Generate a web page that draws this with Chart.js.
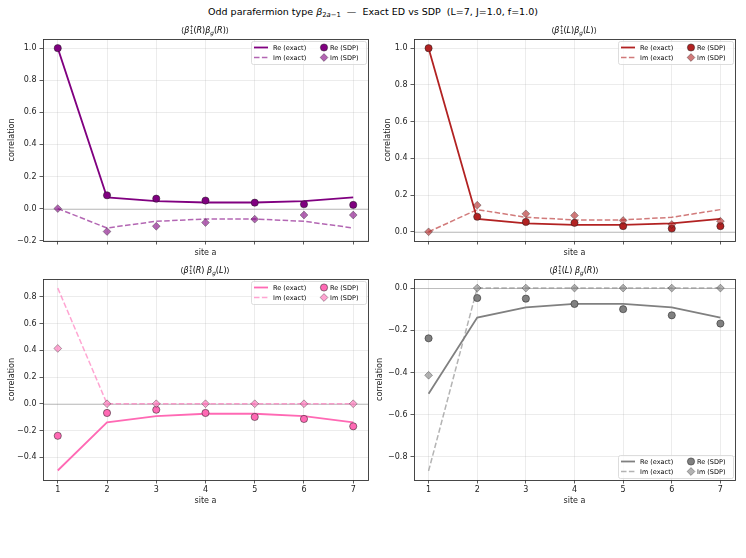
<!DOCTYPE html>
<html lang="en">
  <head>
    <meta charset="UTF-8" />
    <title>Odd parafermion type</title>
    <style>
      body {
        margin: 0;
        width: 746px;
        height: 558px;
        position: relative;
        overflow: hidden;
        background: #fff;
        font-family: "DejaVu Sans", sans-serif;
      }
      .panel {
        position: absolute;
      }
      .suptitle {
        position: absolute;
        top: 6px;
        left: 0;
        width: 746px;
        text-align: center;
        font-size: 9.5px;
        color: #000;
      }
      .axtitle {
        position: absolute;
        width: 200px;
        text-align: center;
        font-size: 8px;
        color: #000;
        white-space: nowrap;
      }
      .ss {
        display: inline-flex;
        flex-direction: column;
        vertical-align: middle;
        font-size: 0.7em;
        line-height: 0.95;
        margin-left: 0.5px;
      }
      sub {
        font-size: 0.72em;
        vertical-align: -0.35em;
      }
    </style>
  </head>
  <body>
    <div class="suptitle">
      Odd parafermion type <i>β</i><sub>2<i>a</i>−1</sub> &nbsp;—&nbsp; Exact ED vs SDP &nbsp;(L=7, J=1.0, f=1.0)
    </div>

    <canvas class="panel" id="c_rr" width="373" height="230" style="left: 0; top: 30px"></canvas>
    <canvas class="panel" id="c_ll" width="373" height="230" style="left: 373px; top: 30px"></canvas>
    <canvas class="panel" id="c_rl" width="373" height="240" style="left: 0; top: 270px"></canvas>
    <canvas class="panel" id="c_lr" width="373" height="240" style="left: 373px; top: 270px"></canvas>

    <div class="axtitle" style="left: 105px; top: 25px">⟨<i>β</i><span class="ss"><span>†</span><span>1</span></span>(<i>R</i>)<i>β</i><sub><i>g</i></sub>(<i>R</i>)⟩</div>
    <div class="axtitle" style="left: 474px; top: 25px">⟨<i>β</i><span class="ss"><span>†</span><span>1</span></span>(<i>L</i>)<i>β</i><sub><i>g</i></sub>(<i>L</i>)⟩</div>
    <div class="axtitle" style="left: 105px; top: 265px">⟨<i>β</i><span class="ss"><span>†</span><span>1</span></span>(<i>R</i>) <i>β</i><sub><i>g</i></sub>(<i>L</i>)⟩</div>
    <div class="axtitle" style="left: 474px; top: 265px">⟨<i>β</i><span class="ss"><span>†</span><span>1</span></span>(<i>L</i>) <i>β</i><sub><i>g</i></sub>(<i>R</i>)⟩</div>
  </body>
  <script src="https://cdn.jsdelivr.net/npm/chart.js"></script>

  <script>
    const sites = [1, 2, 3, 4, 5, 6, 7];

    // <b1+(R) bg(R)>
    const rrReExact = [1.0, 0.07, 0.046, 0.038, 0.038, 0.046, 0.07];
    const rrImExact = [0.0, -0.121, -0.079, -0.065, -0.065, -0.079, -0.121];
    const rrReSdp = [1.0, 0.083, 0.062, 0.05, 0.037, 0.027, 0.023];
    const rrImSdp = [0.0, -0.143, -0.11, -0.087, -0.066, -0.04, -0.04];
    const rrTicks = [-0.2, 0.0, 0.2, 0.4, 0.6, 0.8, 1.0];

    // <b1+(L) bg(L)>
    const llReExact = [1.0, 0.07, 0.046, 0.038, 0.038, 0.046, 0.07];
    const llImExact = [0.0, 0.121, 0.079, 0.065, 0.065, 0.079, 0.121];
    const llReSdp = [1.0, 0.082, 0.054, 0.049, 0.031, 0.018, 0.031];
    const llImSdp = [0.0, 0.145, 0.098, 0.089, 0.062, 0.04, 0.058];
    const llTicks = [0.0, 0.2, 0.4, 0.6, 0.8, 1.0];

    // <b1+(R) bg(L)>
    const rlReExact = [-0.5, -0.139, -0.092, -0.075, -0.075, -0.092, -0.139];
    const rlImExact = [0.866, 0.0, 0.0, 0.0, 0.0, 0.0, 0.0];
    const rlReSdp = [-0.24, -0.069, -0.045, -0.069, -0.099, -0.114, -0.169];
    const rlImSdp = [0.414, 0.0, 0.0, 0.0, 0.0, 0.0, 0.0];
    const rlTicks = [-0.4, -0.2, 0.0, 0.2, 0.4, 0.6, 0.8];

    // <b1+(L) bg(R)>
    const lrReExact = [-0.5, -0.14, -0.091, -0.075, -0.075, -0.091, -0.14];
    const lrImExact = [-0.866, 0.0, 0.0, 0.0, 0.0, 0.0, 0.0];
    const lrReSdp = [-0.238, -0.047, -0.05, -0.075, -0.1, -0.129, -0.168];
    const lrImSdp = [-0.413, 0.0, 0.0, 0.0, 0.0, 0.0, 0.0];
    const lrTicks = [-0.8, -0.6, -0.4, -0.2, 0.0];

    const legendLabels = ["Re (exact)", "Im (exact)", "Re (SDP)", "Im (SDP)"];

    Chart.defaults.font.family = "'DejaVu Sans', sans-serif";
    Chart.defaults.font.size = 8;
    Chart.defaults.color = "#222";

    function rgba(hex, a) {
      const n = parseInt(hex.slice(1), 16);
      return `rgba(${(n >> 16) & 255}, ${(n >> 8) & 255}, ${n & 255}, ${a})`;
    }

    function pts(arr) {
      return sites.map((s, i) => ({ x: s, y: arr[i] }));
    }

    // frame, zero line and the little legend box
    const decor = {
      id: "decor",
      beforeDatasetsDraw(chart) {
        const { ctx, chartArea: a, scales } = chart;
        const y0 = Math.round(scales.y.getPixelForValue(0)) + 0.5;
        ctx.save();
        ctx.strokeStyle = "rgba(128,128,128,0.55)";
        ctx.lineWidth = 0.8;
        ctx.beginPath();
        ctx.moveTo(a.left, y0);
        ctx.lineTo(a.right, y0);
        ctx.stroke();
        ctx.restore();
      },
      afterDatasetsDraw(chart, args, o) {
        const { ctx, chartArea: a } = chart;
        ctx.save();
        ctx.strokeStyle = "#333";
        ctx.lineWidth = 0.9;
        ctx.strokeRect(Math.round(a.left) + 0.5, Math.round(a.top) + 0.5, Math.round(a.right - a.left), Math.round(a.bottom - a.top));

        const w = 115, h = 23;
        const x = a.right - 2 - w;
        const y = o.where === "bottom" ? a.bottom - 2 - h : a.top + 2;
        ctx.fillStyle = "rgba(255,255,255,0.8)";
        ctx.strokeStyle = "#d4d4d4";
        ctx.lineWidth = 0.8;
        ctx.beginPath();
        ctx.roundRect(x + 0.5, y + 0.5, w, h, 2);
        ctx.fill();
        ctx.stroke();

        const ds = chart.data.datasets;
        ctx.font = "6.5px 'DejaVu Sans'";
        ctx.textBaseline = "middle";
        for (let i = 0; i < 4; i++) {
          const d = ds[i];
          const col = i < 2 ? 0 : 1;
          const cy = y + 6.5 + (i % 2) * 10;
          const cx = x + (col ? 73 : 2);
          if (col === 0) {
            ctx.strokeStyle = d.borderColor;
            ctx.lineWidth = d.borderWidth;
            ctx.setLineDash(d.borderDash || []);
            ctx.beginPath();
            ctx.moveTo(cx + 1, cy);
            ctx.lineTo(cx + 15, cy);
            ctx.stroke();
            ctx.setLineDash([]);
          } else {
            ctx.fillStyle = d.pointBackgroundColor;
            ctx.strokeStyle = d.pointBorderColor;
            ctx.lineWidth = d.pointBorderWidth;
            ctx.beginPath();
            if (d.pointStyle === "rectRot") {
              const r = d.pointRadius;
              ctx.moveTo(cx, cy - r);
              ctx.lineTo(cx + r, cy);
              ctx.lineTo(cx, cy + r);
              ctx.lineTo(cx - r, cy);
              ctx.closePath();
            } else {
              ctx.arc(cx, cy, d.pointRadius, 0, Math.PI * 2);
            }
            ctx.fill();
            ctx.stroke();
          }
          ctx.fillStyle = "#000";
          ctx.fillText(legendLabels[i], cx + (col ? 6 : 20), cy + 0.5);
        }
        ctx.restore();
      },
    };

    function makeChart(id, color, reExact, imExact, reSdp, imSdp, yTicks, yMin, yMax, cfg) {
      const ctx = document.getElementById(id);
      return new Chart(ctx, {
        type: "line",
        data: {
          datasets: [
            {
              label: legendLabels[0],
              data: pts(reExact),
              borderColor: color,
              borderWidth: 1.8,
              pointRadius: 0,
              order: 4,
            },
            {
              label: legendLabels[1],
              data: pts(imExact),
              borderColor: rgba(color, 0.6),
              borderWidth: 1.5,
              borderDash: [5.5, 2.4],
              pointRadius: 0,
              order: 3,
            },
            {
              label: legendLabels[2],
              data: pts(reSdp),
              showLine: false,
              pointStyle: "circle",
              pointRadius: 3.6,
              pointBackgroundColor: color,
              pointBorderColor: "rgba(30,30,30,0.85)",
              pointBorderWidth: 0.6,
              order: 2,
            },
            {
              label: legendLabels[3],
              data: pts(imSdp),
              showLine: false,
              pointStyle: "rectRot",
              pointRadius: 3.9,
              pointBackgroundColor: rgba(color, 0.6),
              pointBorderColor: "rgba(30,30,30,0.6)",
              pointBorderWidth: 0.6,
              order: 1,
            },
          ],
        },
        options: {
          responsive: false,
          animation: false,
          devicePixelRatio: 1,
          layout: { padding: { top: 9, right: cfg.padRight, left: 0, bottom: 0 } },
          plugins: {
            legend: { display: false },
            tooltip: { enabled: false },
            decor: { where: cfg.legendWhere },
          },
          scales: {
            x: {
              type: "linear",
              min: 0.7,
              max: 7.3,
              afterBuildTicks: (s) => {
                s.ticks = sites.map((v) => ({ value: v }));
              },
              afterFit: (s) => {
                s.height = cfg.xHeight;
              },
              ticks: { display: cfg.xLabels, padding: 2, color: "#222" },
              grid: {
                color: "rgba(176,176,176,0.3)",
                lineWidth: 0.8,
                drawTicks: true,
                tickLength: 3.5,
                tickColor: "#333",
                tickWidth: 0.8,
              },
              border: { display: false },
              title: { display: true, text: "site a", padding: { top: 0, bottom: cfg.xTitlePad } },
            },
            y: {
              type: "linear",
              min: yMin,
              max: yMax,
              afterBuildTicks: (s) => {
                s.ticks = yTicks.map((v) => ({ value: v }));
              },
              afterFit: (s) => {
                s.width = cfg.yWidth;
              },
              ticks: {
                padding: 3,
                color: "#222",
                callback: (v) => v.toFixed(1).replace("-", "\u2212"),
              },
              grid: {
                color: "rgba(176,176,176,0.3)",
                lineWidth: 0.8,
                drawTicks: true,
                tickLength: 3.5,
                tickColor: "#333",
                tickWidth: 0.8,
              },
              border: { display: false },
              title: { display: true, text: "correlation", padding: { top: cfg.yTitlePad, bottom: 0 } },
            },
          },
        },
        plugins: [decor],
      });
    }

    makeChart("c_rr", "#800080", rrReExact, rrImExact, rrReSdp, rrImSdp, rrTicks, -0.202, 1.057, {
      padRight: 5, yWidth: 43, xHeight: 19, xLabels: false, legendWhere: "top", yTitlePad: 7, xTitlePad: 2,
    });
    makeChart("c_ll", "#b22222", llReExact, llImExact, llReSdp, llImSdp, llTicks, -0.05, 1.05, {
      padRight: 11, yWidth: 41, xHeight: 19, xLabels: false, legendWhere: "top", yTitlePad: 10, xTitlePad: 2,
    });
    makeChart("c_rl", "#ff69b4", rlReExact, rlImExact, rlReSdp, rlImSdp, rlTicks, -0.571, 0.934, {
      padRight: 5, yWidth: 43, xHeight: 30, xLabels: true, legendWhere: "top", yTitlePad: 7, xTitlePad: 4,
    });
    makeChart("c_lr", "#808080", lrReExact, lrImExact, lrReSdp, lrImSdp, lrTicks, -0.909, 0.043, {
      padRight: 11, yWidth: 41, xHeight: 30, xLabels: true, legendWhere: "bottom", yTitlePad: 2, xTitlePad: 4,
    });
  </script>
</html>
